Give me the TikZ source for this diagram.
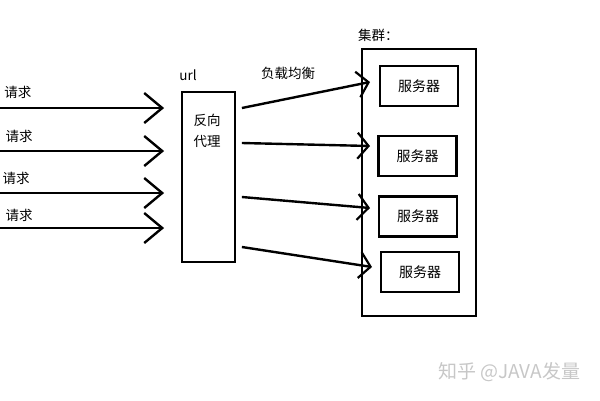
\documentclass[tikz,border=0pt]{standalone}
\usepackage{fontspec}
\setmainfont{Noto Sans CJK SC}
\usetikzlibrary{arrows.meta}
\tikzset{
    reqarrow/.style={line width=2.4pt,-{Straight Barb[length=18pt,width=30pt,line width=2.4pt]}},
    lbarrow/.style={line width=2.4pt,-{Straight Barb[length=11pt,width=26pt,line width=2.2pt]}},
    lbl/.style={font=\fontsize{13.5}{15}\selectfont,inner sep=0pt},
    srv/.style={draw,line width=2.2pt,minimum width=78pt,minimum height=40pt,font=\fontsize{14}{16}\selectfont}
}
\begin{document}
\begin{tikzpicture}[x=1pt,y=-1pt]
        \useasboundingbox (0,0) rectangle (600,400);
        % proxy and cluster boxes
        \node[draw,line width=1.8pt,minimum width=53pt,minimum height=170pt] (proxy) at (208.5,177){};
        \node[lbl,align=center] (proxytext) at (207,131){反向\\[6pt]代理};
        \node[lbl] (url) at (188,75){url};
        \node[draw,line width=2.2pt,minimum width=114pt,minimum height=267pt] (cluster) at (419,182.5){};
        \node[lbl,anchor=west] (clustertext) at (358,35){集群：};
        \node[lbl] (lb) at (288,73){负载均衡};
        % servers
        \foreach \x/\y [count=\i] in {419/86,417.5/156,418/216.5,420/272}
        {
            \node[srv] (server\i) at (\x,\y){服务器};
        }
        % requests
        \foreach \y/\lx/\ly [count=\i] in {108/18/92,151/19/136,193/16/178,228/19/215}
        {
            \coordinate (req\i) at (0,\y);
            \coordinate (in\i) at ([xshift=-17pt]proxy.west |- 0,\y);
            \draw[reqarrow] (req\i)--(in\i);
            \node[lbl] (reqtext\i) at (\lx,\ly){请求};
        }
        % load balancing
        \foreach \a/\b/\c [count=\i] in {108/82/370,143/146/370,197/208/370,247/267/372}
        {
            \coordinate (out\i) at ([xshift=6pt]proxy.east |- 0,\a);
            \coordinate (to\i) at (\c,\b);
            \draw[lbarrow] (out\i)--(to\i);
        }
        \node[anchor=west,text=black!22,font=\fontsize{19}{21}\selectfont,inner sep=0pt] (mark) at (438,372){知乎 @JAVA发量};
    \end{tikzpicture}
\end{document}
